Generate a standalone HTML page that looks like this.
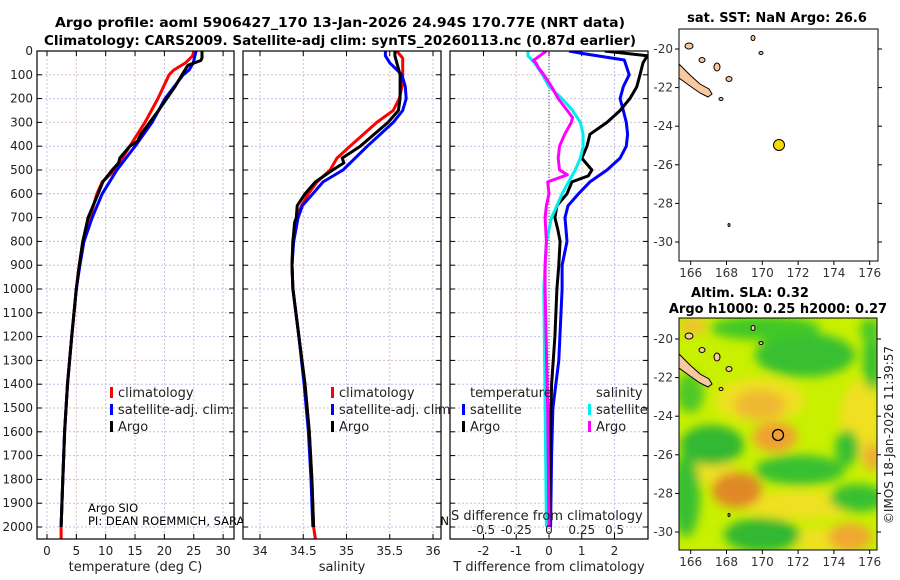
<!DOCTYPE html>
<html><head><meta charset="utf-8">
<style>
html,body{margin:0;padding:0;background:#fff;}
svg{display:block;font-family:"DejaVu Sans","Liberation Sans",sans-serif;}
</style></head>
<body>
<svg id="chart" width="900" height="580" viewBox="0 0 900 580" xmlns="http://www.w3.org/2000/svg">
<defs>
<clipPath id="c1"><rect x="37" y="51" width="197" height="488"/></clipPath>
<clipPath id="c2"><rect x="243" y="51" width="198" height="488"/></clipPath>
<clipPath id="c3"><rect x="450" y="51" width="198" height="488"/></clipPath>
<clipPath id="cm"><rect x="679" y="318" width="198" height="232"/></clipPath>
<filter id="bl" x="-50%" y="-50%" width="200%" height="200%"><feGaussianBlur stdDeviation="5"/></filter>
</defs>
<text x="340" y="27" text-anchor="middle" font-size="13.5" font-weight="bold" textLength="570" lengthAdjust="spacingAndGlyphs">Argo profile: aoml 5906427_170 13-Jan-2026 24.94S 170.77E (NRT data)</text>
<text x="340" y="45" text-anchor="middle" font-size="13.5" font-weight="bold" textLength="592" lengthAdjust="spacingAndGlyphs">Climatology: CARS2009. Satellite-adj clim: synTS_20260113.nc (0.87d earlier)</text>
<g id="panels"></g>
<g id="maps"></g>
<text transform="translate(893,435) rotate(-90)" text-anchor="middle" font-size="12" fill="#222">©IMOS 18-Jan-2026 11:39:57</text>
</svg>
<script>
// ---- Data ----
const depthTicks = [0,100,200,300,400,500,600,700,800,900,1000,1100,1200,1300,1400,1500,1600,1700,1800,1900,2000];
const tempTicks = [0,5,10,15,20,25,30];
const salTicks = [34,34.5,35,35.5,36];
const salTickLabels = ["34","34.5","35","35.5","36"];
const tdiffTicks = [-2,-1,0,1,2];
const sdiffTicks = [-0.5,-0.25,0,0.25,0.5];
const sdiffTickLabels = ["-0.5","-0.25","0","0.25","0.5"];

const tClimDepth = [0,20,50,80,100,200,300,400,500,550,600,700,800,900,1000,1200,1400,1600,1800,2000,2050];
const tClim = [25.0,24.8,23.6,21.6,20.8,18.9,16.7,14.1,11.6,9.4,8.5,7.3,6.1,5.5,5.0,4.2,3.5,3.0,2.7,2.4,2.4];
const tSatDepth = [0,50,80,100,200,300,400,500,600,700,800,900,1000,1200,1400,1600,1800,2000];
const tSat = [25.4,24.9,24.2,23.2,20.1,17.9,15.0,11.9,9.4,7.7,6.3,5.6,5.0,4.2,3.5,3.0,2.7,2.4];
const tArgoDepth = [0,30,40,60,100,150,200,250,300,350,380,400,450,470,500,550,600,700,800,900,1000,1200,1400,1600,1800,2000];
const tArgo = [26.4,26.4,26.2,24.0,23.0,21.8,20.4,19.0,17.5,16.0,15.4,14.1,12.4,12.2,11.1,9.5,8.7,7.0,6.1,5.5,5.0,4.2,3.5,3.0,2.7,2.4];

const sClimDepth = [0,30,100,150,200,250,300,400,450,500,550,600,650,700,800,900,1000,1200,1400,1600,1800,2000,2050];
const sClim = [35.58,35.65,35.65,35.64,35.61,35.54,35.35,35.04,34.89,34.81,34.66,34.56,34.48,34.42,34.38,34.37,34.38,34.45,34.52,34.57,34.6,34.62,34.64];
const sArgoDepth = [0,20,100,200,250,300,350,400,450,470,500,550,600,650,700,720,800,900,1000,1200,1400,1600,1800,2000];
const sArgo = [35.56,35.56,35.62,35.62,35.6,35.48,35.32,35.16,34.95,34.97,34.84,34.64,34.52,34.43,34.42,34.40,34.38,34.37,34.38,34.45,34.52,34.57,34.6,34.62];
const sSatDepth = [0,20,50,100,150,200,250,300,400,450,500,550,600,650,700,800,900,1000,1200,1400,1600,1800,2000];
const sSat = [35.45,35.45,35.5,35.64,35.68,35.69,35.65,35.54,35.24,35.1,34.96,34.73,34.61,34.49,34.44,34.39,34.37,34.38,34.45,34.51,34.56,34.59,34.61];

const dTSatDepth = [0,10,38,100,150,200,250,300,350,400,450,500,550,600,650,700,800,900,1000,1300,1500,1700,2000];
const dTSat = [0.61,1.0,2.3,2.45,2.27,2.17,2.27,2.36,2.4,2.36,2.17,1.77,1.25,0.9,0.58,0.49,0.55,0.4,0.4,0.3,0.12,0.08,0.05];
const dTArgoDepth = [0,20,50,100,150,200,250,300,350,400,450,500,525,550,600,650,700,750,800,900,1000,1200,1400,1500,2000];
const dTArgo = [1.7,3.0,2.87,2.78,2.68,2.47,2.17,1.77,1.25,1.16,1.0,1.31,1.2,0.7,0.55,0.24,0.18,0.27,0.34,0.3,0.24,0.18,0.08,0.06,0.0];
const dSSatDepth = [0,20,50,100,150,200,250,300,350,400,450,500,550,600,650,700,800,900,1000,1500,2000];
const dSSat = [-0.16,-0.16,-0.11,-0.05,0.0,0.1,0.18,0.24,0.26,0.26,0.24,0.2,0.15,0.1,0.06,0.02,-0.02,-0.03,-0.04,-0.03,-0.02];
const dSArgoDepth = [0,20,40,50,70,100,150,200,250,280,300,350,400,450,500,520,550,600,650,700,800,900,1000,1500,2000];
const dSArgo = [-0.02,-0.07,-0.12,-0.1,-0.08,-0.04,0.02,0.07,0.14,0.18,0.17,0.12,0.08,0.07,0.08,0.14,-0.01,0.0,-0.02,-0.03,-0.02,-0.03,-0.03,-0.01,0.0];

// ---- Axes ----
const yD = p => 51 + p*0.238;
const xT = t => 47 + t*5.87;
const xS = s => 260 + (s-34)*86.5;
const xDT = d => 549 + d*32.75;
const xDS = d => 549 + d*131;

const NS = "http://www.w3.org/2000/svg";
function mk(tag, attrs, parent){const e=document.createElementNS(NS,tag);for(const k in attrs)e.setAttribute(k,attrs[k]);parent.appendChild(e);return e;}
const panels = document.getElementById('panels');

function drawPanel(x0,w,name,xTicksPx,xLabels,xTitle,clipId){
  const g = mk('g',{},panels);
  
  
  mk('rect',{x:x0,y:51,width:w,height:488,fill:'#fff'},g);
  depthTicks.forEach((p,i)=>{
    const l=mk('line',{x1:x0,x2:x0+w,y1:yD(p),y2:yD(p),stroke:i%2?'#d8c0c0':'#c0c0e8','stroke-width':1,'stroke-dasharray':'2,2'},g);
    
    
    mk('line',{x1:x0,x2:x0+5,y1:yD(p),y2:yD(p),stroke:'#000'},g);
    mk('line',{x1:x0+w-5,x2:x0+w,y1:yD(p),y2:yD(p),stroke:'#000'},g);
  });
  xTicksPx.forEach((px,i)=>{
    const l=mk('line',{x1:px,x2:px,y1:51,y2:539,stroke:i%2?'#d8c0c0':'#c0c0e8','stroke-dasharray':'2,2'},g);
    
    
    mk('line',{x1:px,x2:px,y1:534,y2:539,stroke:'#000'},g);
    mk('line',{x1:px,x2:px,y1:51,y2:56,stroke:'#000'},g);
    const t=mk('text',{x:px,y:555,'text-anchor':'middle','font-size':12,fill:'#222'},g);
    t.textContent=xLabels[i];
    
    
  });
  const tt=mk('text',{x:x0+w/2,y:571,'text-anchor':'middle','font-size':13,fill:'#222'},g);
  tt.textContent=xTitle;
  
  
  const series=mk('g',{'clip-path':'url(#'+clipId+')'},g);
  mk('rect',{x:x0,y:51,width:w,height:488,fill:'none',stroke:'#000','stroke-width':1.2},g);
  return series;
}
function line(parent, depths, vals, xf, color, name, wdt){
  const d = depths.map((p,i)=>(i?'L':'M')+xf(vals[i]).toFixed(1)+','+yD(p).toFixed(1)).join('');
  const e = mk('path',{d:d,fill:'none',stroke:color,'stroke-width':wdt||3,'stroke-linejoin':'round'},parent);
  
  
}
function legend(parent,x,y,color,label){
  mk('rect',{x:x-1,y:y-9,width:3,height:11,fill:color},parent);
  const t=mk('text',{x:x+7,y:y+1,'font-size':13,fill:'#222'},parent);
  t.textContent=label;
  
  
}

// depth labels
depthTicks.forEach(p=>{
  const t=mk('text',{x:33,y:yD(p)+4,'text-anchor':'end','font-size':12,fill:'#222'},panels);
  t.textContent=p;
  
  
});

const s1 = drawPanel(37,197,'temperature-panel',tempTicks.map(xT),tempTicks.map(String),'temperature (deg C)','c1');
line(s1,tClimDepth,tClim,xT,'#f00','temp-climatology-line');
line(s1,tSatDepth,tSat,xT,'#00f','temp-satellite-line');
line(s1,tArgoDepth,tArgo,xT,'#000','temp-argo-line');
legend(panels,111,396,'#f00','climatology');
legend(panels,111,413,'#00f','satellite-adj. clim.');
legend(panels,111,430,'#000','Argo');
{
  const a=mk('text',{x:88,y:512,'font-size':11.5},panels);a.textContent='Argo SIO';
  
  const b=mk('text',{x:88,y:525,'font-size':11.5},panels);b.textContent='PI: DEAN ROEMMICH, SARAH GILLE, MATTHEW MAZLOFF, JOHN';
  
}

const s2 = drawPanel(243,198,'salinity-panel',salTicks.map(xS),salTickLabels,'salinity','c2');
line(s2,sClimDepth,sClim,xS,'#f00','sal-climatology-line');
line(s2,sSatDepth,sSat,xS,'#00f','sal-satellite-line');
line(s2,sArgoDepth,sArgo,xS,'#000','sal-argo-line');
legend(panels,332,396,'#f00','climatology');
legend(panels,332,413,'#00f','satellite-adj. clim.');
legend(panels,332,430,'#000','Argo');

const s3 = drawPanel(450,198,'difference-panel',tdiffTicks.map(xDT),tdiffTicks.map(String),'T difference from climatology','c3');
mk('line',{x1:549,x2:549,y1:51,y2:539,stroke:'#444','stroke-dasharray':'1,2'},s3);
line(s3,dTSatDepth,dTSat,xDT,'#00f','tdiff-satellite-line');
line(s3,dTArgoDepth,dTArgo,xDT,'#000','tdiff-argo-line');
line(s3,dSSatDepth,dSSat,xDS,'#0ee','sdiff-satellite-line');
line(s3,dSArgoDepth,dSArgo,xDS,'#f0f','sdiff-argo-line');
{
  const t=mk('text',{x:470,y:397,'font-size':13,fill:'#222'},panels);t.textContent='temperature';
  
  const t2=mk('text',{x:596,y:397,'font-size':13,fill:'#222'},panels);t2.textContent='salinity';
  
}
legend(panels,463,413,'#00f','satellite');
legend(panels,463,430,'#000','Argo');
legend(panels,589,413,'#0ee','satellite');
legend(panels,589,430,'#f0f','Argo');
{
  const t=mk('text',{x:451,y:520,'font-size':13,fill:'#222'},panels);t.textContent='S difference from climatology';
  
  sdiffTicks.forEach((v,i)=>{
    const l=mk('text',{x:xDS(v),y:534,'text-anchor':'middle','font-size':12,fill:'#222'},panels);
    l.textContent=sdiffTickLabels[i];
    
    
  });
}

// ---- Maps ----
const maps=document.getElementById('maps');
function lonX(l){return 690.7+(l-166)*17.9;}
function drawMapAxes(x0,y0,w,h,latY){
  mk('rect',{x:x0,y:y0,width:w,height:h,fill:'none',stroke:'#000','stroke-width':1},maps);
  [166,168,170,172,174,176].forEach(l=>{
    const x=lonX(l);
    mk('line',{x1:x,x2:x,y1:y0+h,y2:y0+h+4,stroke:'#000'},maps);
    const t=mk('text',{x:x,y:y0+h+16,'text-anchor':'middle','font-size':12,fill:'#333'},maps);t.textContent=l;
    
  });
  [-20,-22,-24,-26,-28,-30].forEach(l=>{
    const y=latY(l);
    mk('line',{x1:x0-4,x2:x0,y1:y,y2:y,stroke:'#000'},maps);
    mk('line',{x1:x0+w,x2:x0+w+4,y1:y,y2:y,stroke:'#000'},maps);
    const t=mk('text',{x:x0-6,y:y+4,'text-anchor':'end','font-size':12,fill:'#333'},maps);t.textContent=l;
    
  });
}
function islands(g,dy){
  mk('path',{d:`M679,${64+dy} L690,${75+dy} L700,${84+dy} L709,${89+dy} L712,${94+dy} L708,${97+dy} L700,${93+dy} L690,${86+dy} L679,${78+dy} Z`,fill:'#f8c8a0',stroke:'#000','stroke-width':1},g);
  [[689,46,4,3],[702,60,3,2.5],[717,67,3,4],[729,79,3,2.5],[721,99,2,1.5],[753,38,2,2.5],[761,53,2,1.5],[729,225,1,1.5]].forEach(a=>{
    mk('ellipse',{cx:a[0],cy:a[1]+dy,rx:a[2],ry:a[3],fill:'#f8c8a0',stroke:'#000','stroke-width':1},g);
  });
}
// top map
const t1=mk('text',{x:777,y:22,'text-anchor':'middle','font-size':13,'font-weight':'bold'},maps);t1.textContent='sat. SST: NaN Argo: 26.6';

const gTop=mk('g',{},maps);


mk('rect',{x:679,y:29,width:199,height:232,fill:'#fff'},gTop);
islands(gTop,0);
const dot=mk('circle',{cx:779,cy:145,r:5.5,fill:'#f5dc00',stroke:'#000','stroke-width':1},gTop);

drawMapAxes(679,29,199,232,l=>49+(-20-l)*19.3);

// bottom map
const t2=mk('text',{x:750,y:297,'text-anchor':'middle','font-size':13,'font-weight':'bold'},maps);t2.textContent='Altim. SLA: 0.32';

const t3=mk('text',{x:778,y:313,'text-anchor':'middle','font-size':13,'font-weight':'bold'},maps);t3.textContent='Argo h1000: 0.25 h2000: 0.27';

const gB=mk('g',{'clip-path':'url(#cm)'},maps);


mk('rect',{x:679,y:318,width:198,height:232,fill:'#c8f000'},gB);
const blobs=mk('g',{filter:'url(#bl)'},gB);
[
 ['#f0e020',760,400,45,22],['#f0e020',800,505,60,14],['#f0e020',860,420,20,40],['#f0e020',710,470,25,14],['#f0e020',830,540,40,12],
 ['#38c030',805,355,50,22],['#40c828',765,328,55,12],['#30b830',712,445,32,20],['#38c030',800,470,45,15],
 ['#38c030',847,448,12,18],['#30b830',762,535,38,17],['#38c030',686,495,14,42],['#38c030',872,360,9,30],
 ['#38c030',858,498,28,14],['#50c828',690,393,14,20],['#48c828',870,330,10,12],
 ['#f0b830',760,405,26,15],['#f0a030',775,437,22,15],['#e08828',737,490,25,18],['#f0a830',850,537,22,14],
 ['#f0a838',872,457,8,14],['#f0c030',693,326,14,8]
].forEach(b=>mk('ellipse',{cx:b[1],cy:b[2],rx:b[3],ry:b[4],fill:b[0]},blobs));
islands(gB,290);
const ring=mk('circle',{cx:778,cy:435,r:5.5,fill:'none',stroke:'#000','stroke-width':1.3},maps);

drawMapAxes(679,318,198,232,l=>339+(-20-l)*19.3);
</script>
</body></html>
